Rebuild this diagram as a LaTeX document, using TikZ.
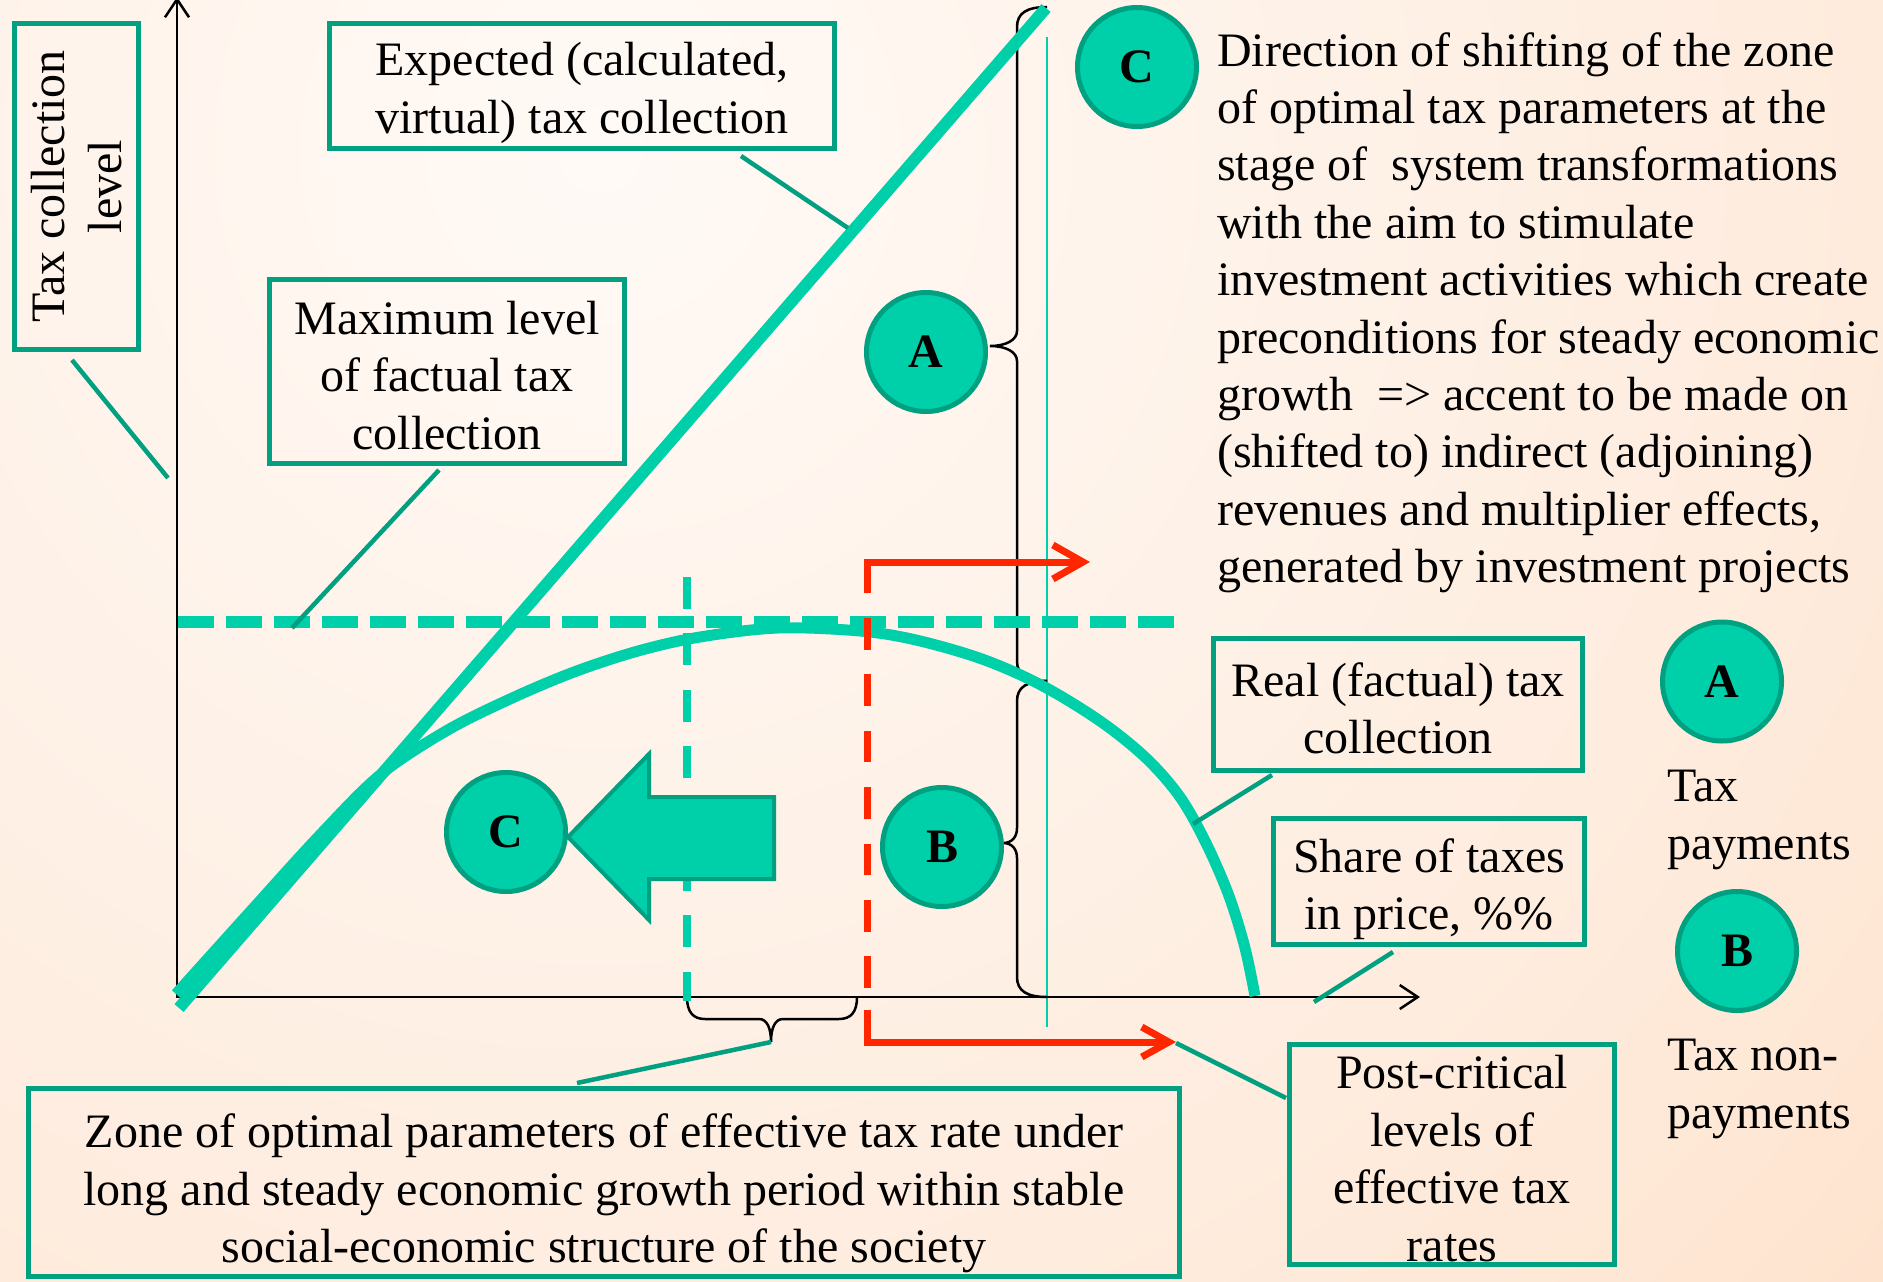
\documentclass[tikz,border=0pt]{standalone}
\usepackage{fontspec}
\setmainfont{Liberation Serif}
\usetikzlibrary{arrows.meta}
\definecolor{tealfill}{RGB}{0,208,170}
\definecolor{tealdark}{RGB}{0,160,128}
\definecolor{redarr}{RGB}{255,38,0}
\definecolor{bgA}{RGB}{255,250,246}
\definecolor{bgB}{RGB}{254,236,222}
\definecolor{bgC}{RGB}{253,220,192}
\definecolor{bgD}{RGB}{253,211,172}
\definecolor{bgE}{RGB}{251,202,156}
\pgfdeclareradialshading{bgshade}{\pgfpoint{0bp}{0bp}}{color(0bp)=(bgA); color(15bp)=(bgB); color(27.5bp)=(bgC); color(35bp)=(bgD); color(50bp)=(bgE)}
\tikzset{
  txt/.style={font=\fontsize{48}{57.4}\selectfont},
  frame/.style={draw=tealdark, line width=5pt, inner sep=0pt},
  lbl/.style={txt, frame, align=center},
  boxtext/.style={txt, align=center, inner sep=0pt},
  disc/.style={circle, fill=tealfill, draw=tealdark, line width=5pt, minimum size=119pt, inner sep=0pt, font=\fontsize{48}{57.4}\selectfont\bfseries},
  conn/.style={draw=tealdark, line width=4.5pt},
  bigline/.style={draw=tealfill, line width=12pt},
  axisline/.style={black, line width=2.5pt},
  redline/.style={draw=redarr, line width=7pt},
  bracel/.style={black, line width=2.5pt},
}
\begin{document}
\begin{tikzpicture}[x=1pt,y=-1pt]
\useasboundingbox (0,0) rectangle (1883,1282);
\begin{scope}
\clip (0,0) rectangle (1883,1282);
\shade[shading=bgshade] (600,150) circle (2000pt);
\end{scope}

% thin teal guide line
\draw[tealfill, line width=2pt] (1047,37) -- (1047,1027);

% braces
\draw[bracel] (1047,7) .. controls (1027,7) and (1017,13) .. (1017,27)
  -- (1017,331) .. controls (1017,340) and (1006,346) .. (990,346)
  .. controls (1006,346) and (1017,352) .. (1017,361)
  -- (1017,661) .. controls (1017,675) and (1027,681) .. (1047,681);
\draw[bracel] (1047,681) .. controls (1027,681) and (1017,687) .. (1017,701)
  -- (1017,828) .. controls (1017,837) and (1012,843) .. (1003,843)
  .. controls (1012,843) and (1017,849) .. (1017,858)
  -- (1017,977) .. controls (1017,991) and (1027,997) .. (1047,997);
\draw[bracel] (687,997) .. controls (687,1012) and (693,1019) .. (705,1019)
  -- (759,1019) .. controls (767,1019) and (771,1028) .. (771,1042)
  .. controls (771,1028) and (775,1019) .. (783,1019)
  -- (839,1019) .. controls (851,1019) and (857,1012) .. (857,997);

% axes
\draw[axisline, {Straight Barb[length=18pt,width=24pt]}-{Straight Barb[length=18pt,width=24pt]}] (177,-3) -- (177,997) -- (1420,997);

% dashed teal lines
\draw[tealfill, line width=12pt, dash pattern=on 36pt off 12pt] (178,622) -- (1174,622);
\draw[tealfill, line width=7.5pt, dash pattern=on 32pt off 24.4pt] (687,577) -- (687,1001);

% expected line and real curve
\draw[bigline] (179,1008) -- (1046,8);
\draw[tealfill, line width=11pt] plot[smooth, tension=0.55] coordinates {(176,994) (249,913) (319,836) (380,775) (446,731) (510,699) (574,672) (638,651) (700,637) (778,628) (860,631) (916,640) (982,659) (1041,685) (1100,721) (1146,758) (1180,797) (1206,843) (1229,896) (1245,948) (1255,996)};

% big block arrow
\draw[fill=tealfill, draw=tealdark, line width=4pt, line join=miter] (568,837) -- (649,754) -- (649,797) -- (774,797) -- (774,879) -- (649,879) -- (649,920) -- cycle;

% red lines
\draw[redline, dash pattern=on 31.5pt off 24.9pt] (867,618) -- (867,988);
\draw[redline, -{Straight Barb[length=30pt,width=34pt]}] (867,593) -- (867,562) -- (1090,562);
\draw[redline, -{Straight Barb[length=27pt,width=30pt]}] (867,1010) -- (867,1042) -- (1176,1042);

% boxes (frames) and their texts
\node[lbl, minimum width=326pt, minimum height=124pt, rotate=90] (taxbox) at (76.5,186.5) {Tax collection\\level};
\node[frame, minimum width=505pt, minimum height=125pt] (expbox) at (582,86) {};
\node[boxtext] (exptext) at (582,93) {Expected (calculated,\\virtual) tax collection};
\node[frame, minimum width=355pt, minimum height=184pt] (maxbox) at (447,371.5) {};
\node[boxtext] (maxtext) at (447,375.5) {Maximum level\\of factual tax\\collection};
\node[frame, minimum width=369pt, minimum height=132pt] (realbox) at (1398,704) {};
\node[boxtext] (realtext) at (1398,708.5) {Real (factual) tax\\collection};
\node[frame, minimum width=311pt, minimum height=126pt] (sharebox) at (1429,881) {};
\node[boxtext] (sharetext) at (1429,889.5) {Share of taxes\\in price, \%\%};
\node[frame, minimum width=325pt, minimum height=220pt] (postbox) at (1452,1154.5) {};
\node[boxtext] (posttext) at (1452,1158.5) {Post-critical\\levels of\\effective tax\\rates};
\node[frame, minimum width=1151pt, minimum height=188pt] (zonebox) at (604,1182.5) {};
\node[boxtext] (zonetext) at (604,1193.5) {Zone of optimal parameters of effective tax rate under\\long and steady economic growth period within stable\\social-economic structure of the society};

% connectors
\coordinate (taxA) at (72,360); \coordinate (taxB) at (168,478);
\coordinate (expA) at (741,156); \coordinate (expB) at (848,228);
\coordinate (maxA) at (439,470); \coordinate (maxB) at (292,628);
\coordinate (realA) at (1272,775); \coordinate (realB) at (1193,824);
\coordinate (shareA) at (1393,952); \coordinate (shareB) at (1314,1002);
\coordinate (postA) at (1176,1043); \coordinate (postB) at (1286,1098);
\coordinate (zoneA) at (771,1042); \coordinate (zoneB) at (577,1083);
\draw[conn] (taxA) -- (taxB);
\draw[conn] (expA) -- (expB);
\draw[conn] (maxA) -- (maxB);
\draw[conn] (realA) -- (realB);
\draw[conn] (shareA) -- (shareB);
\draw[conn] (postA) -- (postB);
\draw[conn] (zoneA) -- (zoneB);

% discs
\node[disc] (cTop) at (1137,67) {C};
\node[disc] (cA) at (926,352) {A};
\node[disc] (cC) at (506,832) {C};
\node[disc] (cB) at (942,847) {B};
\node[disc] (legA) at (1722,681.5) {A};
\node[disc] (legB) at (1737,951) {B};

% texts
\node[txt, align=left, anchor=north west, inner sep=0pt] (dirtext) at (1217,32) {Direction of shifting of the zone\\of optimal tax parameters at the\\stage of~ system transformations\\with the aim to stimulate\\investment activities which create\\preconditions for steady economic\\growth~ => accent to be made on\\(shifted to) indirect (adjoining)\\revenues and multiplier effects,\\generated by investment projects};
\node[txt, align=left, anchor=north west, inner sep=0pt] (legAtxt) at (1667,770) {Tax\\payments};
\node[txt, align=left, anchor=north west, inner sep=0pt] (legBtxt) at (1667,1039) {Tax non-\\payments};
\end{tikzpicture}
\end{document}
